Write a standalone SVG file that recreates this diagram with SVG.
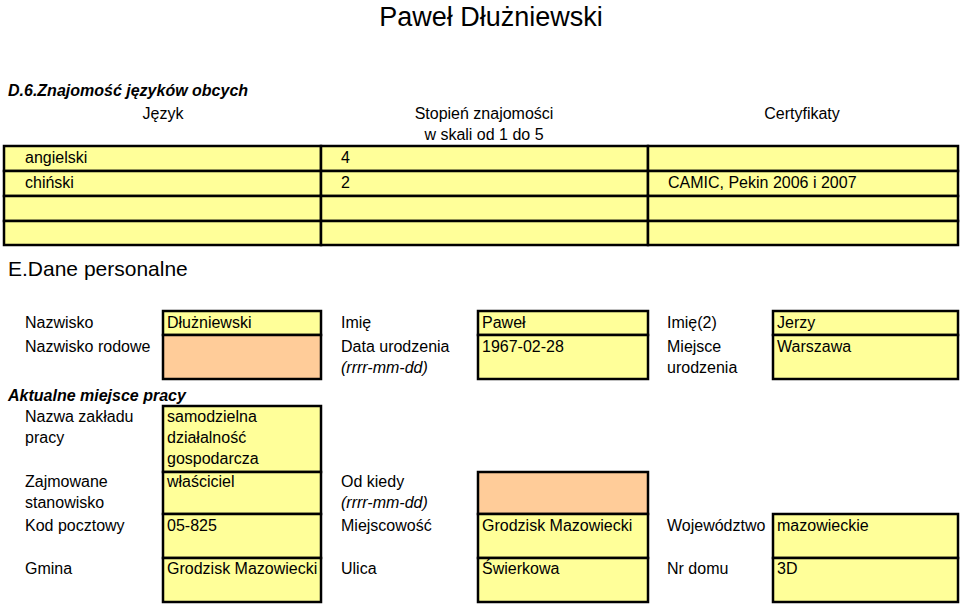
<svg xmlns="http://www.w3.org/2000/svg" width="960" height="607" viewBox="0 0 960 607">
<style>
text{font-family:"Liberation Sans",Arial,sans-serif;font-size:16px;fill:#000}
.y{fill:#FFFF99;stroke:#000;stroke-width:2.5}
.o{fill:#FFCC99;stroke:#000;stroke-width:2.5}
.c{text-anchor:middle}
.bi{font-weight:bold;font-style:italic}
.i{font-style:italic}
</style>
<rect width="960" height="607" fill="#fff"/>
<text x="491" y="26" class="c" style="font-size:27px">Paweł Dłużniewski</text>
<g id="sectionD">
<text x="8" y="96" class="bi">D.6.Znajomość języków obcych</text>
<text x="163" y="119" class="c">Język</text>
<text x="484" y="119" class="c">Stopień znajomości</text>
<text x="484" y="140" class="c">w skali od 1 do 5</text>
<text x="802" y="119" class="c">Certyfikaty</text>
<rect class="y" x="4" y="146" width="317" height="25"/><rect class="y" x="321" y="146" width="327" height="25"/><rect class="y" x="648" y="146" width="310" height="25"/>
<rect class="y" x="4" y="171" width="317" height="25"/><rect class="y" x="321" y="171" width="327" height="25"/><rect class="y" x="648" y="171" width="310" height="25"/>
<rect class="y" x="4" y="196" width="317" height="25"/><rect class="y" x="321" y="196" width="327" height="25"/><rect class="y" x="648" y="196" width="310" height="25"/>
<rect class="y" x="4" y="221" width="317" height="24"/><rect class="y" x="321" y="221" width="327" height="24"/><rect class="y" x="648" y="221" width="310" height="24"/>
<text x="25" y="163">angielski</text><text x="341" y="163">4</text>
<text x="25" y="188">chiński</text><text x="341" y="188">2</text><text x="668" y="188">CAMIC, Pekin 2006 i 2007</text>
</g>
<g id="sectionE">
<text x="8" y="276" style="font-size:21px">E.Dane personalne</text>
<text x="25" y="328">Nazwisko</text>
<rect class="y" x="163" y="311" width="158" height="24"/><text x="167" y="328">Dłużniewski</text>
<text x="341" y="328">Imię</text>
<rect class="y" x="478" y="311" width="170" height="24"/><text x="482" y="328">Paweł</text>
<text x="667" y="328">Imię(2)</text>
<rect class="y" x="773" y="311" width="185" height="24"/><text x="777" y="328">Jerzy</text>

<text x="25" y="352">Nazwisko rodowe</text>
<rect class="o" x="163" y="335" width="158" height="44"/>
<text x="341" y="352">Data urodzenia</text><text x="341" y="373" class="i">(rrrr-mm-dd)</text>
<rect class="y" x="478" y="335" width="170" height="44"/><text x="482" y="352">1967-02-28</text>
<text x="667" y="352">Miejsce</text><text x="667" y="373">urodzenia</text>
<rect class="y" x="773" y="335" width="185" height="44"/><text x="777" y="352">Warszawa</text>

<text x="8" y="401" class="bi">Aktualne miejsce pracy</text>
<text x="25" y="422">Nazwa zakładu</text><text x="25" y="443">pracy</text>
<rect class="y" x="163" y="406" width="158" height="66"/>
<text x="167" y="422">samodzielna</text><text x="167" y="443">działalność</text><text x="167" y="464">gospodarcza</text>

<text x="25" y="487">Zajmowane</text><text x="25" y="508">stanowisko</text>
<rect class="y" x="163" y="472" width="158" height="42"/><text x="167" y="487">właściciel</text>
<text x="341" y="487">Od kiedy</text><text x="341" y="508" class="i">(rrrr-mm-dd)</text>
<rect class="o" x="478" y="472" width="170" height="42"/>

<text x="25" y="531">Kod pocztowy</text>
<rect class="y" x="163" y="514" width="158" height="44"/><text x="167" y="531">05-825</text>
<text x="341" y="531">Miejscowość</text>
<rect class="y" x="478" y="514" width="170" height="44"/><text x="482" y="531">Grodzisk Mazowiecki</text>
<text x="667" y="531">Województwo</text>
<rect class="y" x="773" y="514" width="185" height="44"/><text x="777" y="531">mazowieckie</text>

<text x="25" y="574">Gmina</text>
<rect class="y" x="163" y="558" width="158" height="44"/><text x="167" y="574">Grodzisk Mazowiecki</text>
<text x="341" y="574">Ulica</text>
<rect class="y" x="478" y="558" width="170" height="44"/><text x="482" y="574">Świerkowa</text>
<text x="667" y="574">Nr domu</text>
<rect class="y" x="773" y="558" width="185" height="44"/><text x="777" y="574">3D</text>
</g>
</svg>
